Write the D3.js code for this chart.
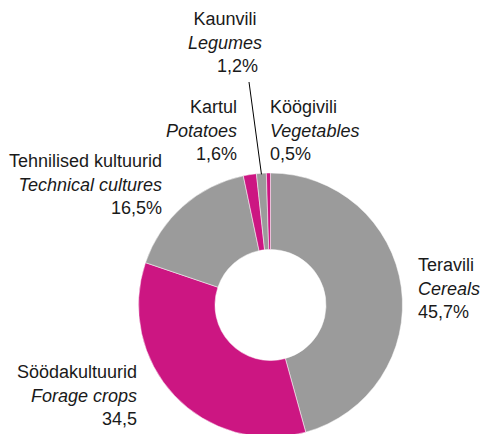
<!DOCTYPE html>
<html>
<head>
<meta charset="utf-8">
<script src="https://cdn.jsdelivr.net/npm/d3@7"></script>
<style>
	body { margin: 0; background: #fff; }
	svg text { font-family: "Liberation Sans", Arial, sans-serif; font-size: 18px; fill: #1a1a1a; }
</style>
</head>
<body>
<div id="chart"></div>
<script>
var namesEt = ["Teravili", "Söödakultuurid", "Tehnilised kultuurid", "Kartul", "Kaunvili", "Köögivili"];
var namesEn = ["Cereals", "Forage crops", "Technical cultures", "Potatoes", "Legumes", "Vegetables"];
var values = [45.7, 34.5, 16.5, 1.6, 1.2, 0.5];
var units = ["%", "", "%", "%", "%", "%"];
var colors = ["#9b9b9b", "#cc1682", "#9b9b9b", "#cc1682", "#9b9b9b", "#cc1682"];

// label layout: anchor x, first baseline y, text-anchor
var labelPos = [
	{x: 418, y: 271, anchor: "start"},
	{x: 137, y: 378, anchor: "end"},
	{x: 162, y: 167, anchor: "end"},
	{x: 237, y: 113, anchor: "end"},
	{x: 225, y: 25, anchor: "middle"},
	{x: 270, y: 113, anchor: "start"}
];

var width = 481,
		height = 434,
		cx = 270.5,
		cy = 305,
		outerR = 132,
		innerR = 55.5,
		lineH = 23.5;

var svg = d3.select("#chart")
	.append("svg")
		.attr("width", width)
		.attr("height", height);

var pie = d3.pie().sort(null).value(function(d) { return d; });
var arc = d3.arc().innerRadius(innerR).outerRadius(outerR);
var arcs = pie(values);

var g = svg.append("g")
		.attr("transform", "translate(" + cx + "," + cy + ")");

g.selectAll("path")
	.data(arcs)
	.enter().append("path")
		.attr("d", arc)
		.attr("fill", function(d, i) { return colors[i]; })
		.attr("stroke", "#fff")
		.attr("stroke-width", 0.5);

function fmt(v) {
	return d3.format(".1f")(v).replace(".", ",");
}

labelPos.forEach(function(p, i) {
	var t = svg.append("text")
		.attr("text-anchor", p.anchor);
	t.append("tspan")
		.attr("x", p.x)
		.attr("y", p.y)
		.text(namesEt[i]);
	t.append("tspan")
		.attr("x", p.x)
		.attr("y", p.y + lineH)
		.style("font-style", "italic")
		.text(namesEn[i]);
	t.append("tspan")
		.attr("x", i == 4 ? p.x + 33 : p.x)
		.attr("y", p.y + lineH * 2)
		.attr("text-anchor", i == 4 ? "end" : p.anchor)
		.text(fmt(values[i]) + units[i]);
});

// leader line for the legumes slice
var a = arcs[4],
		mid = (a.startAngle + a.endAngle) / 2;
svg.append("line")
	.attr("x1", 249)
	.attr("y1", 82)
	.attr("x2", cx + Math.sin(mid) * (outerR - 1))
	.attr("y2", cy - Math.cos(mid) * (outerR - 1))
	.attr("stroke", "#000")
	.attr("stroke-width", 1);
</script>
</body>
</html>
